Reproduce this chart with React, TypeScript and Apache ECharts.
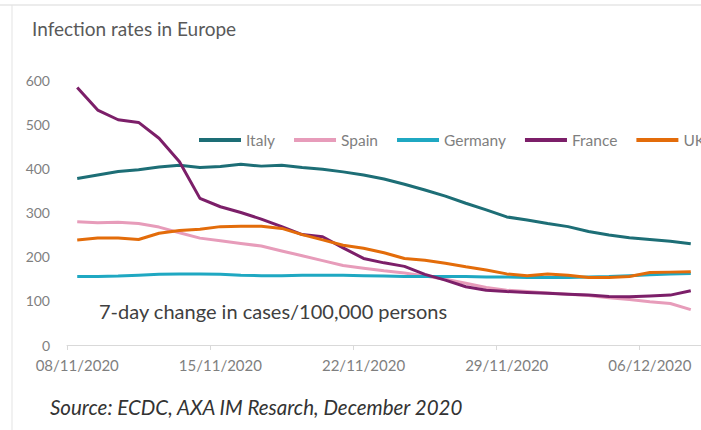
import React, { useEffect, useRef } from "react";
import * as echarts from "echarts";

const dates = [
  "08/11/2020", "09/11/2020", "10/11/2020", "11/11/2020", "12/11/2020", "13/11/2020", "14/11/2020",
  "15/11/2020", "16/11/2020", "17/11/2020", "18/11/2020", "19/11/2020", "20/11/2020", "21/11/2020",
  "22/11/2020", "23/11/2020", "24/11/2020", "25/11/2020", "26/11/2020", "27/11/2020", "28/11/2020",
  "29/11/2020", "30/11/2020", "01/12/2020", "02/12/2020", "03/12/2020", "04/12/2020", "05/12/2020",
  "06/12/2020", "07/12/2020", "08/12/2020",
];

const italy = [377, 385, 393, 397, 403, 407, 402, 404, 409, 405, 407, 402, 398, 392, 385, 376, 364, 351, 337, 321, 306, 290, 283, 275, 268, 257, 249, 243, 239, 235, 229];
const spain = [279, 277, 278, 275, 267, 254, 242, 236, 230, 224, 213, 202, 191, 180, 174, 168, 163, 156, 149, 140, 130, 124, 121, 118, 115, 112, 107, 103, 98, 94, 80];
const germany = [155, 155, 156, 158, 160, 161, 161, 160, 158, 157, 157, 158, 158, 158, 157, 156, 155, 155, 155, 155, 154, 154, 153, 153, 153, 154, 155, 157, 159, 161, 162];
const france = [583, 532, 510, 504, 468, 415, 332, 313, 300, 285, 268, 250, 245, 220, 196, 186, 178, 160, 147, 132, 124, 121, 119, 117, 115, 113, 110, 109, 111, 113, 123];
const uk = [238, 242, 242, 239, 253, 259, 262, 268, 269, 269, 264, 250, 238, 226, 219, 209, 196, 192, 185, 177, 170, 161, 157, 161, 158, 153, 153, 155, 164, 165, 166];

const seriesNames = ["Italy", "Spain", "Germany", "France", "UK"];
const seriesColors = ["#1d6e76", "#e79cba", "#1fa8c2", "#7c1f69", "#e36c0a"];
const seriesData = [italy, spain, germany, france, uk];

const titleText = "Infection rates in Europe";
const noteText = "7-day change in cases/100,000 persons";
const sourceText = "Source: ECDC, AXA IM Resarch, December 2020";

export default function App() {
  const ref = useRef<HTMLDivElement>(null);
  useEffect(() => {
    if (!ref.current) return;
    const chart = echarts.init(ref.current, null, { renderer: "svg" });
    const font = "Lato, 'Open Sans', sans-serif";
    chart.setOption({
      animation: false,
      backgroundColor: "#ffffff",
      grid: { left: 67, right: -8, top: 80, bottom: 85, containLabel: false },
      legend: {
        left: 194,
        top: 127,
        width: 700,
        icon: "rect",
        itemWidth: 42,
        itemHeight: 4,
        itemGap: 19,
        textStyle: { color: "#7f7f7f", fontSize: 15.5, fontFamily: font },
        data: seriesNames,
      },
      xAxis: {
        type: "category",
        data: dates,
        boundaryGap: true,
        axisLine: { lineStyle: { color: "#d9d9d9", width: 1 } },
        axisTick: { show: true, interval: 6, length: 5, lineStyle: { color: "#d9d9d9" } },
        axisLabel: { interval: 6, color: "#7f7f7f", fontSize: 15, fontFamily: font, margin: 12 },
        splitLine: { show: false },
      },
      yAxis: {
        type: "value",
        min: 0,
        max: 600,
        interval: 100,
        axisLine: { show: false },
        axisTick: { show: false },
        splitLine: { show: false },
        axisLabel: { color: "#7f7f7f", fontSize: 14, fontFamily: font, margin: 17 },
      },
      series: seriesNames.map((name, i) => ({
        name,
        type: "line",
        data: seriesData[i],
        symbol: "none",
        smooth: false,
        lineStyle: { color: seriesColors[i], width: 3 },
        itemStyle: { color: seriesColors[i] },
      })),
      graphic: [
        { type: "line", shape: { x1: 0, y1: 5, x2: 701, y2: 5 }, style: { stroke: "#d9d9d9", lineWidth: 1 }, silent: true },
        { type: "line", shape: { x1: 12, y1: 5, x2: 12, y2: 430 }, style: { stroke: "#e3e3e3", lineWidth: 1 }, silent: true },
        {
          type: "text", left: 32, top: 19,
          style: { text: titleText, fill: "#595959", fontSize: 19, fontFamily: font },
        },
        {
          type: "text", left: 99, top: 301,
          style: { text: noteText, fill: "#404040", fontSize: 20, fontFamily: font },
        },
        {
          type: "text", left: 50, top: 397,
          style: { text: sourceText, fill: "#333333", fontSize: 20.5, fontStyle: "italic", fontFamily: font },
        },
      ],
    });
    return () => chart.dispose();
  }, []);
  return (
    <div
      ref={ref}
      style={{ position: "absolute", left: 0, top: 0, width: 701, height: 430, background: "#fff" }}
    />
  );
}
